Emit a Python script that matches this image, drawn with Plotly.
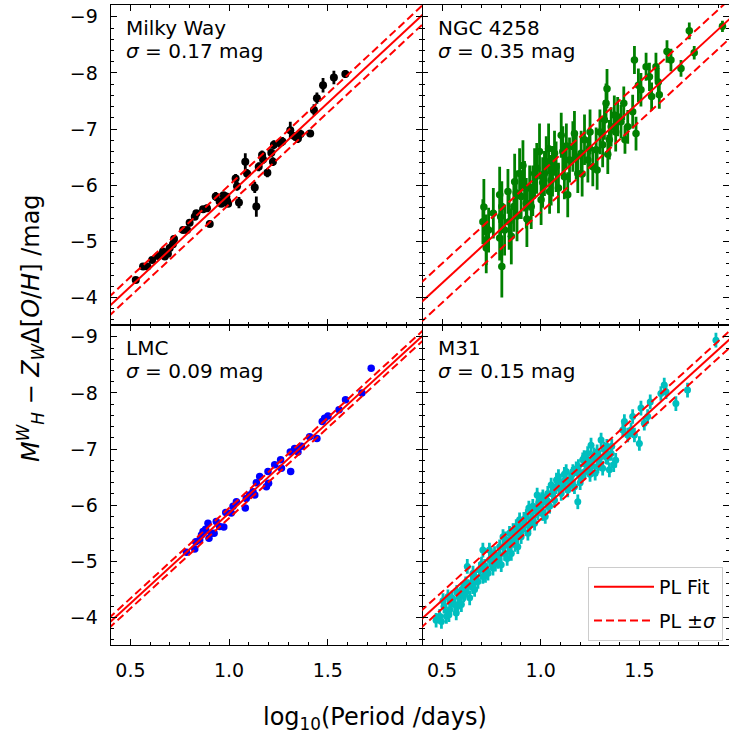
import plotly.graph_objects as go
from plotly.subplots import make_subplots

# ---------------- data ----------------
mw_logp = [0.527, 0.564, 0.586, 0.610, 0.640, 0.665, 0.674, 0.690, 0.699, 0.715, 0.721, 0.767, 0.787,
           0.800, 0.826, 0.834, 0.868, 0.888, 0.902, 0.932, 0.952, 0.961, 0.972, 0.978, 0.986, 0.990,
           0.995, 1.033, 1.050, 1.040, 1.082, 1.091, 1.130, 1.138, 1.150, 1.167, 1.172, 1.194, 1.214,
           1.222, 1.227, 1.256, 1.270, 1.310, 1.332, 1.349, 1.362, 1.411, 1.430, 1.445, 1.476, 1.531, 1.589]
mw_mag = [-4.31, -4.55, -4.55, -4.67, -4.74, -4.82, -4.73, -4.78, -4.88, -4.95, -5.04, -5.20, -5.20,
          -5.33, -5.44, -5.50, -5.57, -5.59, -5.31, -5.80, -5.71, -5.67, -5.82, -5.74, -5.80, -5.72,
          -5.67, -6.12, -5.69, -5.98, -6.42, -6.21, -5.96, -5.62, -6.33, -6.54, -6.46, -6.22, -6.58,
          -6.42, -6.72, -6.75, -6.78, -6.98, -6.87, -6.83, -6.91, -6.92, -7.34, -7.55, -7.78, -7.92, -7.98]
mw_err = [0.05, 0.05, 0.05, 0.05, 0.05, 0.05, 0.05, 0.05, 0.06, 0.05, 0.06, 0.05, 0.05,
          0.06, 0.06, 0.06, 0.06, 0.06, 0.06, 0.08, 0.06, 0.06, 0.06, 0.06, 0.06, 0.06,
          0.06, 0.08, 0.10, 0.08, 0.15, 0.08, 0.10, 0.18, 0.08, 0.08, 0.08, 0.08, 0.08,
          0.08, 0.08, 0.08, 0.08, 0.15, 0.08, 0.08, 0.08, 0.06, 0.10, 0.10, 0.13, 0.12, 0.07]

ngc_logp = [0.712, 0.707, 0.724, 0.736, 0.724, 0.760, 0.792, 0.797, 0.792, 0.803, 0.803, 0.817, 0.834,
            0.840, 0.851, 0.868, 0.864, 0.876, 0.880, 0.893, 0.901, 0.910, 0.918, 0.927, 0.930, 0.944,
            0.952, 0.960, 0.969, 0.980, 0.994, 1.002, 1.010, 1.019, 1.028, 1.040, 1.045, 1.053, 1.060,
            1.070, 1.078, 1.090, 1.104, 1.112, 1.120, 1.130, 1.137, 1.146, 1.163, 1.171, 1.180, 1.188,
            1.205, 1.210, 1.222, 1.239, 1.247, 1.250, 1.264, 1.281, 1.286, 1.300, 1.314, 1.323, 1.331,
            1.336, 1.340, 1.348, 1.357, 1.373, 1.380, 1.390, 1.407, 1.421, 1.427, 1.441, 1.466, 1.475,
            1.483, 1.495, 1.508, 1.534, 1.551, 1.562, 1.584, 1.596, 1.601, 1.640, 1.660, 1.711, 1.753,
            1.778, 1.921]
ngc_mag = [-5.61, -5.35, -4.88, -5.20, -5.03, -5.50, -5.83, -5.44, -5.06, -4.55, -5.62, -5.20, -5.89,
           -5.35, -5.09, -6.06, -5.62, -5.86, -5.45, -6.21, -5.80, -6.35, -5.98, -5.68, -5.40, -5.95,
           -5.62, -5.90, -6.21, -6.30, -6.60, -5.74, -6.05, -6.21, -6.42, -6.65, -5.89, -6.09, -6.25,
           -6.57, -6.33, -5.95, -6.89, -6.60, -6.15, -6.70, -5.83, -6.45, -6.69, -6.92, -6.50, -6.21,
           -6.57, -6.20, -6.81, -6.45, -6.66, -6.95, -6.33, -6.63, -6.27, -6.95, -6.72, -7.16, -7.46,
           -7.72, -6.55, -6.81, -7.04, -7.25, -6.95, -7.22, -7.13, -7.46, -6.81, -7.04, -7.31, -8.23,
           -6.92, -7.78, -7.70, -8.11, -7.93, -7.58, -8.11, -7.84, -7.61, -8.38, -8.23, -8.08, -8.75,
           -8.36, -8.83]
ngc_err = [0.50, 0.40, 0.45, 0.40, 0.45, 0.45, 0.50, 0.45, 0.40, 0.55, 0.45, 0.45, 0.40,
           0.50, 0.50, 0.50, 0.45, 0.40, 0.45, 0.45, 0.40, 0.45, 0.45, 0.45, 0.50, 0.40,
           0.40, 0.45, 0.45, 0.45, 0.50, 0.45, 0.45, 0.40, 0.45, 0.45, 0.40, 0.45, 0.45,
           0.40, 0.45, 0.45, 0.40, 0.45, 0.40, 0.40, 0.40, 0.40, 0.45, 0.40, 0.40, 0.35,
           0.40, 0.40, 0.45, 0.40, 0.35, 0.40, 0.35, 0.40, 0.35, 0.40, 0.40, 0.35, 0.35,
           0.35, 0.35, 0.35, 0.35, 0.35, 0.35, 0.35, 0.30, 0.30, 0.25, 0.30, 0.30, 0.25,
           0.30, 0.30, 0.30, 0.25, 0.25, 0.25, 0.25, 0.25, 0.25, 0.20, 0.20, 0.15, 0.15,
           0.12, 0.10]

lmc_logp = [0.784, 0.826, 0.831, 0.851, 0.860, 0.868, 0.881, 0.893, 0.898, 0.910, 0.924, 0.935, 0.952,
            0.973, 0.983, 1.011, 1.020, 1.037, 1.082, 1.087, 1.104, 1.121, 1.130, 1.138, 1.155, 1.189,
            1.197, 1.200, 1.231, 1.261, 1.265, 1.312, 1.310, 1.332, 1.349, 1.366, 1.408, 1.445, 1.472,
            1.484, 1.501, 1.557, 1.590, 1.673, 1.720]
lmc_mag = [-5.16, -5.22, -5.35, -5.38, -5.47, -5.53, -5.57, -5.68, -5.41, -5.50, -5.50, -5.71, -5.62,
           -5.61, -5.87, -5.86, -5.98, -6.06, -5.95, -6.12, -6.18, -6.24, -6.18, -6.40, -6.51, -6.33,
           -6.60, -6.39, -6.72, -6.81, -6.66, -6.60, -6.95, -7.01, -6.95, -7.05, -7.22, -7.19, -7.49,
           -7.55, -7.59, -7.70, -7.88, -8.00, -8.44]

m31_logp = [0.488, 0.497, 0.522, 0.530, 0.539, 0.547, 0.564, 0.572, 0.589, 0.598, 0.615, 0.628, 0.632,
            0.648, 0.657, 0.665, 0.682, 0.691, 0.707, 0.707, 0.716, 0.733, 0.741, 0.758, 0.766, 0.780,
            0.792, 0.800, 0.809, 0.817, 0.834, 0.842, 0.851, 0.864, 0.876, 0.884, 0.893, 0.901, 0.910,
            0.927, 0.935, 0.952, 0.960, 0.969, 0.982, 0.986, 1.002, 1.011, 1.023, 1.036, 1.045, 1.053,
            1.070, 1.078, 1.090, 1.104, 1.117, 1.129, 1.137, 1.146, 1.163, 1.171, 1.188, 1.191, 1.205,
            1.213, 1.225, 1.238, 1.247, 1.255, 1.264, 1.276, 1.286, 1.298, 1.306, 1.314, 1.331, 1.348,
            1.357, 1.370, 1.416, 1.424, 1.441, 1.458, 1.466, 1.475, 1.500, 1.508, 1.525, 1.542, 1.555,
            1.609, 1.626, 1.635, 1.685, 1.744, 1.888,
            0.470, 0.510, 0.550, 0.580, 0.600, 0.620, 0.640, 0.670, 0.700, 0.720, 0.740, 0.770, 0.790,
            0.820, 0.830, 0.860, 0.870, 0.900, 0.920, 0.940, 0.960, 0.990, 1.010, 1.030, 1.060, 1.080,
            1.100, 1.120, 1.150, 1.180, 1.200, 1.230, 1.250, 1.270, 1.290, 1.320, 1.340, 1.360, 1.380,
            0.505, 0.535, 0.575, 0.610, 0.655, 0.690, 0.725, 0.750, 0.785, 0.810, 0.845, 0.880, 0.915,
            0.945, 0.975, 1.005, 1.040, 1.065, 1.095, 1.125, 1.160, 1.195, 1.220, 1.260, 1.300, 1.335]
m31_mag = [-4.02, -3.93, -4.02, -4.37, -4.14, -4.26, -4.23, -4.08, -4.37, -4.23, -4.43, -4.91, -4.55,
           -4.61, -4.79, -4.50, -4.64, -4.85, -5.20, -4.73, -4.91, -4.79, -5.03, -4.88, -5.14, -5.03,
           -5.26, -4.94, -5.44, -5.14, -5.29, -5.50, -5.14, -5.38, -5.62, -5.26, -5.74, -5.44, -5.62,
           -5.80, -5.50, -5.74, -5.98, -5.68, -6.18, -5.86, -5.98, -6.15, -5.80, -6.21, -5.98, -6.36,
           -6.09, -6.33, -6.51, -6.21, -6.42, -6.60, -6.27, -6.45, -6.60, -6.33, -6.06, -6.69, -6.51,
           -6.81, -6.60, -6.92, -6.69, -7.07, -6.81, -6.57, -6.95, -6.75, -7.16, -6.66, -6.86, -6.63,
           -6.92, -6.72, -7.34, -7.49, -7.25, -7.34, -7.58, -7.25, -7.10, -7.73, -7.46, -7.58, -7.84,
           -7.99, -8.14, -8.02, -7.81, -8.05, -8.94,
           -3.95, -4.20, -4.35, -4.20, -4.50, -4.60, -4.35, -4.70, -4.95, -4.75, -5.20, -4.95, -5.10,
           -5.40, -5.05, -5.55, -5.30, -5.55, -5.65, -5.95, -5.75, -6.05, -5.85, -6.05, -6.20, -6.45,
           -6.35, -6.55, -6.40, -6.65, -6.40, -6.75, -6.55, -6.90, -6.70, -7.00, -6.85, -7.05, -6.80,
           -4.30, -4.05, -4.45, -4.40, -4.55, -4.85, -4.85, -5.05, -5.00, -5.25, -5.30, -5.45, -5.75,
           -5.65, -5.90, -6.10, -6.00, -6.25, -6.30, -6.45, -6.55, -6.55, -6.85, -6.70, -6.85, -7.05]
m31_err = 0.13

panel_names = ["Milky Way", "NGC 4258", "LMC", "M31"]
panel_sigma = [0.17, 0.35, 0.09, 0.15]
fit_slope = [-3.27, -3.23, -3.22, -3.19]
fit_zp = [-5.83, -5.87, -5.86, -5.90]   # magnitude at log10(P) = 1
point_colors = ["#000000", "#008000", "#0000FF", "#00BFBF"]
x_ticks = [0.5, 1.0, 1.5]
y_ticks = [-9, -8, -7, -6, -5, -4]

# ---------------- figure ----------------
W, H = 729, 737
FONT = "DejaVu Sans"
fig = make_subplots(rows=2, cols=2, horizontal_spacing=0, vertical_spacing=0)

panels = [
    (mw_logp, mw_mag, mw_err, 1, 1, 8),
    (ngc_logp, ngc_mag, ngc_err, 1, 2, 7.5),
    (lmc_logp, lmc_mag, None, 2, 1, 7.5),
    (m31_logp, m31_mag, [m31_err] * len(m31_logp), 2, 2, 7),
]

for i, (lp, mg, er, r, c, ms) in enumerate(panels):
    kw = {}
    if er is not None:
        kw["error_y"] = dict(type="data", array=er, color=point_colors[i], thickness=2.8, width=0)
    fig.add_trace(go.Scatter(x=lp, y=mg, mode="markers",
                             marker=dict(color=point_colors[i], size=ms, line=dict(width=0)),
                             showlegend=False, **kw), row=r, col=c)

xl = [0.3, 2.05]
for i, (lp, mg, er, r, c, ms) in enumerate(panels):
    yfit = [fit_zp[i] + fit_slope[i] * (x - 1.0) for x in xl]
    leg = (i == 3)
    fig.add_trace(go.Scatter(x=xl, y=yfit, mode="lines", line=dict(color="#FF0000", width=2),
                             name="PL Fit", showlegend=leg, legendgroup="a"), row=r, col=c)
    for s, sign in enumerate([1, -1]):
        yd = [v + sign * panel_sigma[i] for v in yfit]
        fig.add_trace(go.Scatter(x=xl, y=yd, mode="lines",
                                 line=dict(color="#FF0000", width=2, dash="8px,4px"),
                                 name="PL ±<i>σ</i>", showlegend=(leg and s == 0), legendgroup="b"),
                      row=r, col=c)

# domains (pixels -> paper)
xL0, xS, xR = 110.7, 422.3, 729.0
yT, yM, yB = 5.0, 325.0, 645.0
px = lambda v: v / W
py = lambda v: (H - v) / H
ppu = (xS - xL0) / 1.579  # pixels per unit log P

common_x = dict(showline=True, linecolor="black", linewidth=1.3, mirror="ticks", ticks="inside",
                ticklen=6, tickwidth=1.3, tickcolor="black", showgrid=False, zeroline=False,
                tickvals=x_ticks, tickformat=".1f", ticklabelstandoff=8,
                tickfont=dict(family=FONT, size=19, color="black"),
                minor=dict(ticks="inside", ticklen=3, tickwidth=1, tickcolor="black", dtick=0.1,
                           tick0=0, showgrid=False))
common_y = dict(showline=True, linecolor="black", linewidth=1.3, mirror="ticks", ticks="inside",
                ticklen=6, tickwidth=1.3, tickcolor="black", showgrid=False, zeroline=False,
                tickvals=y_ticks, range=[-3.51, -9.21], ticklabelstandoff=8,
                tickfont=dict(family=FONT, size=19, color="black"),
                minor=dict(ticks="inside", ticklen=3, tickwidth=1, tickcolor="black", dtick=0.2,
                           tick0=0, showgrid=False))

left_range = [0.4, 0.4 + (xS - xL0) / ppu]
right_range = [0.4, 0.4 + (xR - xS) / ppu]

fig.update_layout(
    xaxis=dict(common_x, domain=[px(xL0), px(xS)], range=left_range, showticklabels=False),
    xaxis2=dict(common_x, domain=[px(xS), 1.0], range=right_range, showticklabels=False),
    xaxis3=dict(common_x, domain=[px(xL0), px(xS)], range=left_range),
    xaxis4=dict(common_x, domain=[px(xS), 1.0], range=right_range),
    yaxis=dict(common_y, domain=[py(yM), py(yT)]),
    yaxis2=dict(common_y, domain=[py(yM), py(yT)], showticklabels=False, linecolor="rgba(0,0,0,0)"),
    yaxis3=dict(common_y, domain=[py(yB), py(yM)]),
    yaxis4=dict(common_y, domain=[py(yB), py(yM)], showticklabels=False, linecolor="rgba(0,0,0,0)"),
)

annotations = []
text_x = [124, 435.7, 124, 435.7]
text_y = [14, 14, 334, 334]
for i in range(4):
    annotations.append(dict(text=panel_names[i], x=px(text_x[i]), y=py(text_y[i]), xref="paper",
                            yref="paper", xanchor="left", yanchor="top", showarrow=False,
                            font=dict(family=FONT, size=20, color="black")))
    annotations.append(dict(text="<i>σ</i> = %.2f mag" % panel_sigma[i], x=px(text_x[i]),
                            y=py(text_y[i] + 23), xref="paper", yref="paper", xanchor="left",
                            yanchor="top", showarrow=False,
                            font=dict(family=FONT, size=20, color="black")))

annotations.append(dict(text="log<sub>10</sub>(Period /days)", x=px(375), y=py(718), xref="paper",
                        yref="paper", xanchor="center", yanchor="middle", showarrow=False,
                        font=dict(family=FONT, size=24, color="black")))
annotations.append(dict(text="<i>M</i><sup><i>W</i></sup><sub><i>H</i></sub> − <i>Z</i><sub><i>W</i></sub>Δ[<i>O</i>/<i>H</i>] /mag",
                        x=px(30), y=py(328), xref="paper", yref="paper", xanchor="center",
                        yanchor="middle", textangle=-90, showarrow=False,
                        font=dict(family=FONT, size=24, color="black")))

fig.update_layout(
    width=W, height=H, margin=dict(l=0, r=0, t=0, b=0),
    paper_bgcolor="white", plot_bgcolor="white",
    annotations=annotations,
    font=dict(family=FONT, size=18, color="black"),
    legend=dict(x=px(723), y=py(567), xanchor="right", yanchor="top", bgcolor="white",
                bordercolor="#CCCCCC", borderwidth=1, font=dict(family=FONT, size=19, color="black"),
                traceorder="grouped", tracegroupgap=6, itemwidth=60),
)

fig.write_html("out.html")
